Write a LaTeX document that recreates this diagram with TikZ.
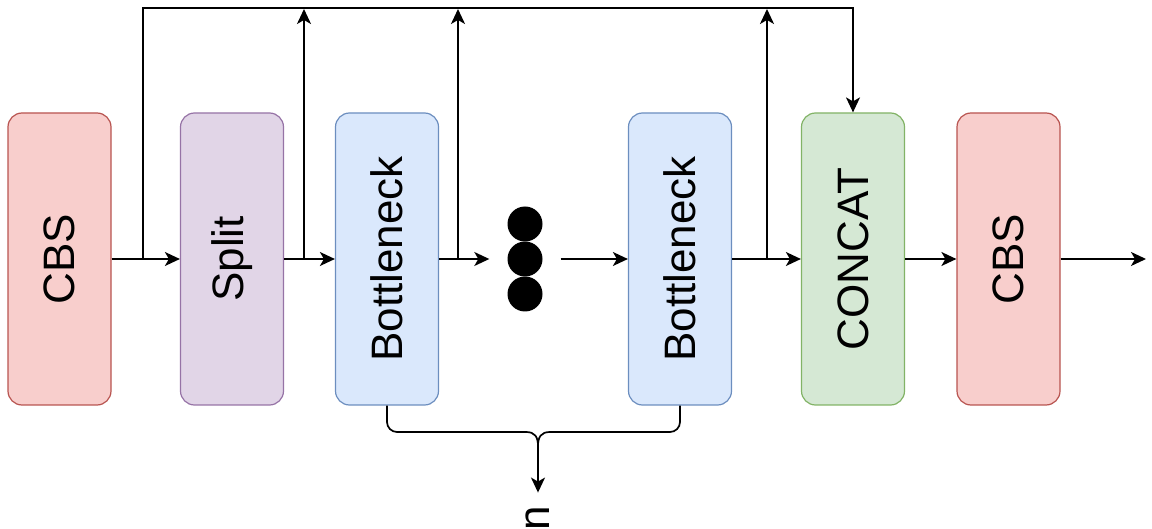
\documentclass[tikz,border=0pt]{standalone}
\usepackage{fontspec}
\setmainfont{Liberation Sans}
\usetikzlibrary{arrows.meta,calc}
\definecolor{redfill}{HTML}{F8CECC}
\definecolor{redline}{HTML}{B85450}
\definecolor{purfill}{HTML}{E1D5E7}
\definecolor{purline}{HTML}{9673A6}
\definecolor{bluefill}{HTML}{DAE8FC}
\definecolor{blueline}{HTML}{6C8EBF}
\definecolor{grnfill}{HTML}{D5E8D4}
\definecolor{grnline}{HTML}{82B366}
\begin{document}
\begin{tikzpicture}[x=1pt,y=-1pt,
  blk/.style={draw, rounded corners=14pt, minimum width=103pt, minimum height=292pt,
    line width=1.2pt, inner sep=0pt, font=\fontsize{44}{50}\selectfont},
  redb/.style={blk, fill=redfill, draw=redline},
  purb/.style={blk, fill=purfill, draw=purline},
  blub/.style={blk, fill=bluefill, draw=blueline},
  grnb/.style={blk, fill=grnfill, draw=grnline},
  ln/.style={line width=1.7pt},
  arr/.style={line width=1.7pt, -{Stealth[length=15pt,width=14pt,inset=4pt]}},
  dot/.style={circle, fill=black, minimum size=35pt, inner sep=0pt}]
\useasboundingbox (0,0) rectangle (1152,529);

\node[redb] (cbs1) at (59.5,259) {\rotatebox{90}{CBS}};
\node[purb] (split) at (232,259) {\rotatebox{90}{Split}};
\node[blub] (b1) at (387,259) {\rotatebox{90}{Bottleneck}};
\node[blub] (b2) at (680,259) {\rotatebox{90}{Bottleneck}};
\node[grnb] (concat) at (853,259) {\rotatebox{90}{CONCAT}};
\node[redb] (cbs2) at (1008.5,259) {\rotatebox{90}{CBS}};

\node[dot] (d1) at (525,224) {};
\node[dot] (d2) at (525,259) {};
\node[dot] (d3) at (525,294) {};

\coordinate (out) at (1146,259);
\coordinate (j1) at (143,259);
\coordinate (tl) at (143,8);
\coordinate (tr) at (853,8);
\coordinate (j2) at (304,259);
\coordinate (t2) at (304,9);
\coordinate (j3) at (458,259);
\coordinate (t3) at (458,9);
\coordinate (j4) at (767,259);
\coordinate (t4) at (767,9);

\draw[arr] (cbs1.east) -- (split.west);
\draw[arr] (j1) -- (tl) -- (tr) -- (concat.north);
\draw[arr] (split.east) -- (b1.west);
\draw[arr] (j2) -- (t2);
\draw[arr, shorten >=18pt] (b1.east) -- (d2.west);
\draw[arr] (j3) -- (t3);
\draw[arr, shorten <=18pt] (d2.east) -- (b2.west);
\draw[arr] (b2.east) -- (concat.west);
\draw[arr] (j4) -- (t4);
\draw[arr] (concat.east) -- (cbs2.west);
\draw[arr] (cbs2.east) -- (out);

% brace
\node[rotate=90, inner sep=0pt, font=\fontsize{44}{50}\selectfont] (n) at (538,518) {n};
\coordinate (bm) at (538,446);
\draw[ln, rounded corners=10pt] (b1.south) -- (b1.south |- 0,432) -- (526,432);
\draw[ln] (526,432) .. controls (535,432) and (538,437) .. (bm);
\draw[ln, rounded corners=10pt] (b2.south) -- (b2.south |- 0,432) -- (550,432);
\draw[ln] (550,432) .. controls (541,432) and (538,437) .. (bm);
\draw[arr, shorten >=13pt] (bm) -- (n.east);
\end{tikzpicture}
\end{document}
